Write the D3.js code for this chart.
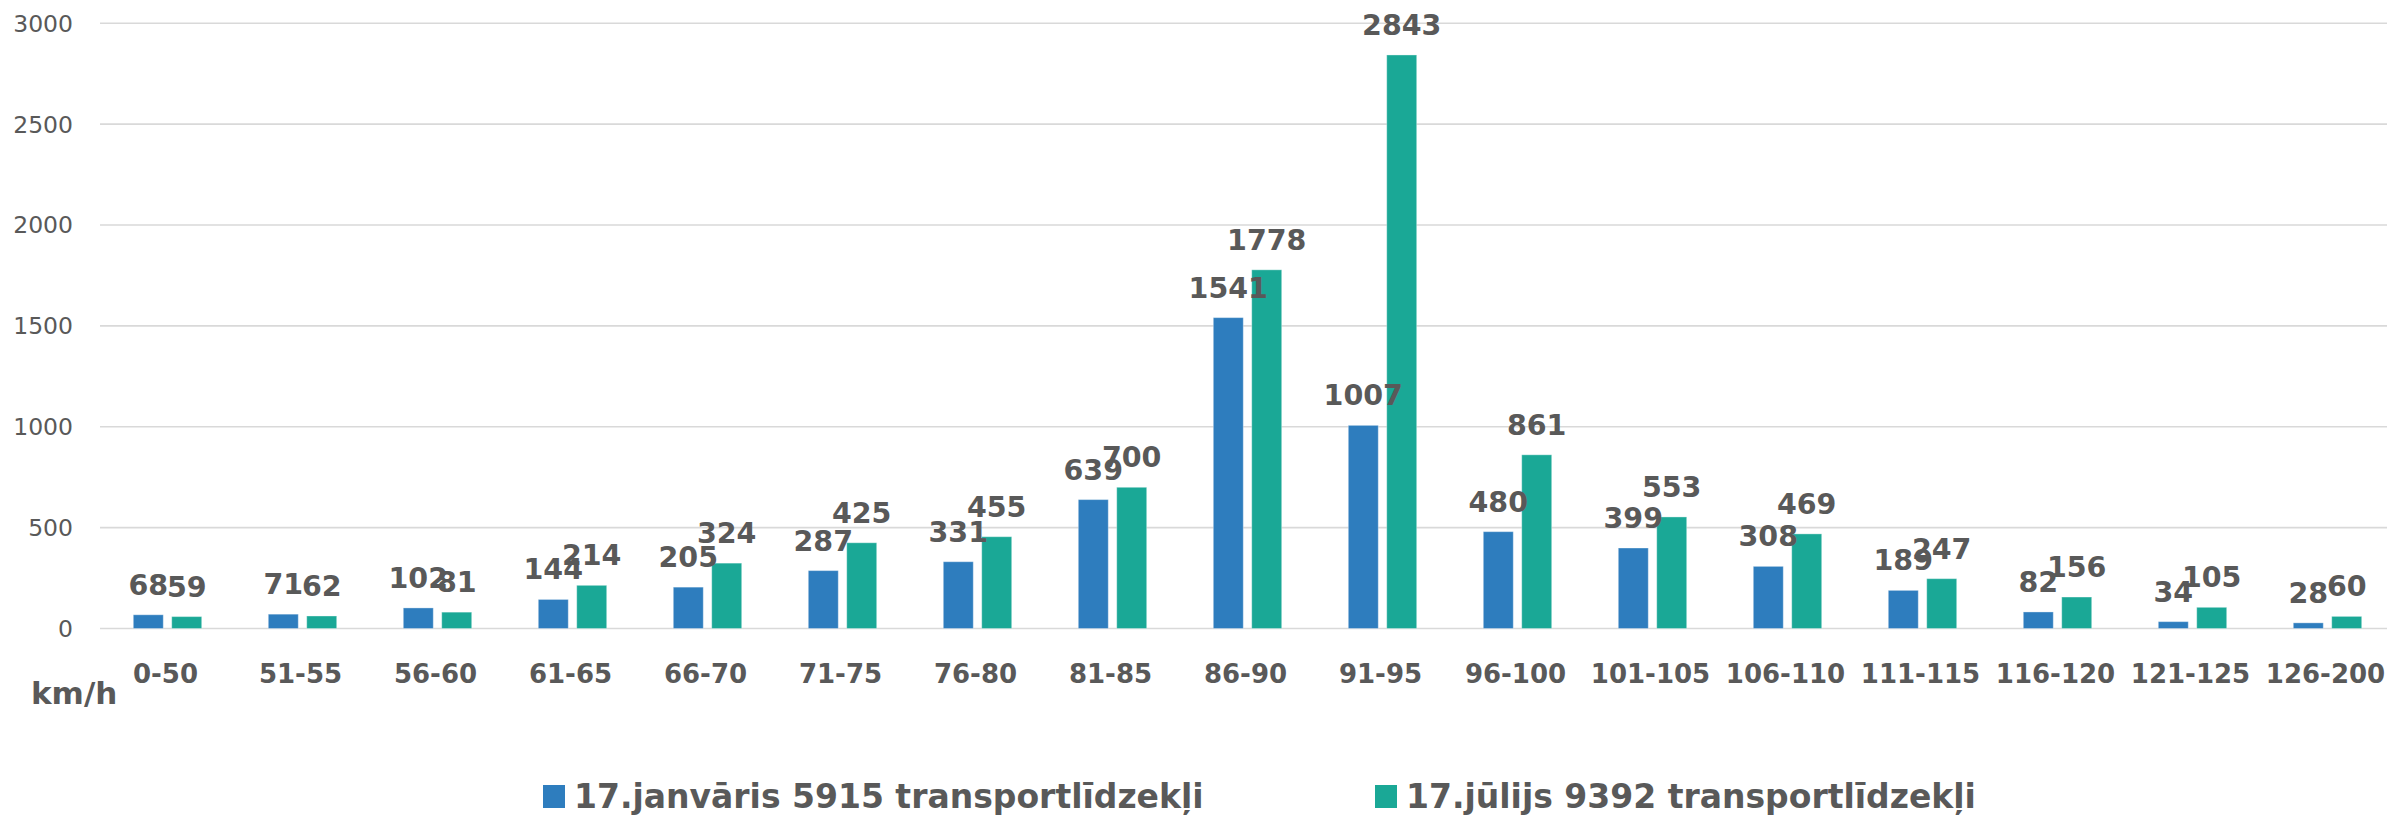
<!DOCTYPE html>
<html>
<head>
<meta charset="utf-8">
<script src="https://cdn.jsdelivr.net/npm/d3@7"></script>
<style>
  html, body { margin: 0; padding: 0; background: #fff; }
  svg { display: block; font-family: "DejaVu Sans", sans-serif; }
</style>
</head>
<body>
<div id="chart"></div>
<script>
const categories = ["0-50", "51-55", "56-60", "61-65", "66-70", "71-75", "76-80", "81-85",
  "86-90", "91-95", "96-100", "101-105", "106-110", "111-115", "116-120", "121-125", "126-200"];
const seriesNames = ["17.janvāris 5915 transportlīdzekļi", "17.jūlijs 9392 transportlīdzekļi"];
const january = [68, 71, 102, 144, 205, 287, 331, 639, 1541, 1007, 480, 399, 308, 189, 82, 34, 28];
const july = [59, 62, 81, 214, 324, 425, 455, 700, 1778, 2843, 861, 553, 469, 247, 156, 105, 60];
const yTicks = [0, 500, 1000, 1500, 2000, 2500, 3000];
const colors = ["#2E7DBE", "#1AA896"];

const width = 2387, height = 816;
const textColor = "#595959";

const svg = d3.select("#chart").append("svg")
    .attr("width", width)
    .attr("height", height);

const x = d3.scaleBand()
    .domain(categories)
    .range([100, 2395]);

const xInner = d3.scaleBand()
    .domain([0, 1])
    .range([33.3, 101.7])
    .paddingInner(0.22);

const y = d3.scaleLinear()
    .domain([0, 3000])
    .range([628.5, 23.3]);

// gridlines + y labels
const grid = svg.append("g");
grid.selectAll("line")
    .data(yTicks)
    .join("line")
    .attr("x1", 100)
    .attr("x2", width)
    .attr("y1", d => y(d))
    .attr("y2", d => y(d))
    .attr("stroke", "#d9d9d9")
    .attr("stroke-width", 1.6);

grid.selectAll("text")
    .data(yTicks)
    .join("text")
    .attr("x", 73)
    .attr("y", d => y(d))
    .attr("dy", "0.36em")
    .attr("text-anchor", "end")
    .attr("fill", textColor)
    .style("font-size", "23.5px")
    .text(d => d);

const series = [january, july];

const groups = svg.append("g")
    .selectAll("g")
    .data(categories)
    .join("g")
    .attr("transform", d => `translate(${x(d)},0)`);

groups.selectAll("rect")
    .data((d, i) => series.map((s, k) => ({ k, v: s[i] })))
    .join("rect")
    .attr("x", d => xInner(d.k))
    .attr("width", xInner.bandwidth())
    .attr("y", d => y(d.v))
    .attr("height", d => y(0) - y(d.v))
    .attr("fill", d => colors[d.k])
    .attr("stroke", "rgba(255,255,255,0.35)")
    .attr("stroke-width", 1);

groups.selectAll("text.val")
    .data((d, i) => series.map((s, k) => ({ k, v: s[i] })))
    .join("text")
    .attr("class", "val")
    .attr("x", d => xInner(d.k) + xInner.bandwidth() / 2)
    .attr("y", d => y(d.v) - 20)
    .attr("text-anchor", "middle")
    .attr("fill", textColor)
    .style("font-size", "28.5px")
    .style("font-weight", "bold")
    .text(d => d.v);

// category labels
svg.append("g")
    .selectAll("text")
    .data(categories)
    .join("text")
    .attr("x", d => x(d) + x.bandwidth() / 2 - 2)
    .attr("y", 683)
    .attr("text-anchor", "middle")
    .attr("fill", textColor)
    .style("font-size", "26px")
    .style("font-weight", "bold")
    .text(d => d);

svg.append("text")
    .attr("x", 31)
    .attr("y", 704)
    .attr("fill", textColor)
    .style("font-size", "31px")
    .style("font-weight", "bold")
    .text("km/h");

// legend
const legendX = [543, 1375];
const legend = svg.append("g")
    .selectAll("g")
    .data(seriesNames)
    .join("g")
    .attr("transform", (d, i) => `translate(${legendX[i]},0)`);

legend.append("rect")
    .attr("x", 0)
    .attr("y", 785)
    .attr("width", 22)
    .attr("height", 23)
    .attr("fill", (d, i) => colors[i]);

legend.append("text")
    .attr("x", 31)
    .attr("y", 808)
    .attr("fill", textColor)
    .style("font-size", "33px")
    .style("font-weight", "bold")
    .text(d => d);
</script>
</body>
</html>
